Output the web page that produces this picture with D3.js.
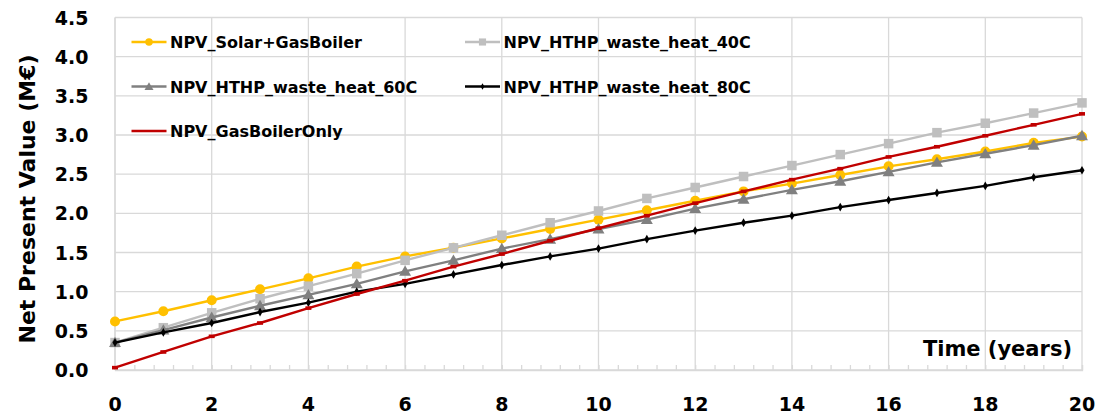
<!DOCTYPE html>
<html>
<head>
<meta charset="utf-8">
<script src="https://cdn.jsdelivr.net/npm/d3@7"></script>
<style>
  body { margin: 0; background: #fff; }
  text { font-family: "DejaVu Sans", sans-serif; font-weight: bold; fill: #000; }
</style>
</head>
<body>
<div class="chart"></div>
<script>
const years = d3.range(0, 21);
const solarGas = [0.62, 0.75, 0.89, 1.03, 1.17, 1.32, 1.45, 1.56, 1.68, 1.80, 1.92, 2.04, 2.16, 2.28, 2.38, 2.49, 2.60, 2.69, 2.79, 2.90, 2.98];
const hthp40 = [0.35, 0.54, 0.73, 0.91, 1.07, 1.23, 1.40, 1.56, 1.72, 1.88, 2.03, 2.19, 2.33, 2.47, 2.61, 2.75, 2.89, 3.03, 3.15, 3.28, 3.41];
const hthp60 = [0.35, 0.51, 0.67, 0.82, 0.96, 1.10, 1.26, 1.40, 1.55, 1.67, 1.80, 1.92, 2.06, 2.18, 2.30, 2.41, 2.53, 2.65, 2.76, 2.87, 2.99];
const hthp80 = [0.35, 0.48, 0.60, 0.74, 0.86, 1.00, 1.10, 1.22, 1.34, 1.45, 1.55, 1.67, 1.78, 1.88, 1.97, 2.08, 2.17, 2.26, 2.35, 2.46, 2.55];
const gasOnly = [0.03, 0.23, 0.43, 0.60, 0.79, 0.97, 1.14, 1.32, 1.48, 1.65, 1.81, 1.97, 2.13, 2.28, 2.43, 2.57, 2.72, 2.85, 2.99, 3.13, 3.27];
const yTicks = [0, 0.5, 1, 1.5, 2, 2.5, 3, 3.5, 4, 4.5];
const xTicks = [0, 2, 4, 6, 8, 10, 12, 14, 16, 18, 20];

const series = [
  {name: "NPV_Solar+GasBoiler", values: solarGas, color: "#FFC000", marker: "circle"},
  {name: "NPV_HTHP_waste_heat_40C", values: hthp40, color: "#BFBFBF", marker: "square"},
  {name: "NPV_HTHP_waste_heat_60C", values: hthp60, color: "#808080", marker: "triangle"},
  {name: "NPV_HTHP_waste_heat_80C", values: hthp80, color: "#000000", marker: "diamond"},
  {name: "NPV_GasBoilerOnly", values: gasOnly, color: "#C00000", marker: "dash"}
];

const W = 1099, H = 417;
const margin = {top: 17.5, right: 17, bottom: 47, left: 115};

const svg = d3.select(".chart").append("svg")
  .attr("width", W).attr("height", H);

const x = d3.scaleLinear().domain([0, 20]).range([margin.left, W - margin.right]);
const y = d3.scaleLinear().domain([0, 4.5]).range([H - margin.bottom, margin.top]);

const gridColor = "#d9d9d9";

// grid
svg.append("g").selectAll("line").data(yTicks).join("line")
  .attr("x1", x(0)).attr("x2", x(20))
  .attr("y1", d => y(d)).attr("y2", d => y(d))
  .attr("stroke", gridColor).attr("stroke-width", 1.3);
svg.append("g").selectAll("line").data(xTicks).join("line")
  .attr("x1", d => x(d)).attr("x2", d => x(d))
  .attr("y1", y(0)).attr("y2", y(4.5))
  .attr("stroke", gridColor).attr("stroke-width", 1.3);

// x axis with minor ticks
const xAxis = d3.axisBottom(x).tickValues(d3.range(0, 20.01, 0.4)).tickSize(-5).tickFormat("");
svg.append("g").attr("transform", `translate(0,${y(0)})`).call(xAxis)
  .call(g => g.select(".domain").attr("stroke", gridColor).attr("stroke-width", 1.3))
  .call(g => g.selectAll(".tick line").attr("stroke", gridColor).attr("stroke-width", 1.3));

svg.append("g").selectAll("text").data(xTicks).join("text")
  .attr("x", d => x(d)).attr("y", 410.5)
  .attr("text-anchor", "middle").attr("font-size", 19)
  .text(d => d);

// y axis labels
svg.append("g").selectAll("text").data(yTicks).join("text")
  .attr("x", 88.5).attr("y", d => y(d) + 7)
  .attr("text-anchor", "end").attr("font-size", 19)
  .text(d => d3.format(".1f")(d));

svg.append("line")
  .attr("x1", x(0)).attr("x2", x(0)).attr("y1", y(0)).attr("y2", y(4.5))
  .attr("stroke", gridColor).attr("stroke-width", 1.3);

svg.append("text")
  .attr("transform", `translate(35,199) rotate(-90)`)
  .attr("text-anchor", "middle").attr("font-size", 22)
  .text("Net Present Value (M€)");

svg.append("text")
  .attr("x", 1072).attr("y", 356)
  .attr("text-anchor", "end").attr("font-size", 21)
  .text("Time (years)");

// markers
function drawMarker(g, type, color, cx, cy, k) {
  if (type === "circle") {
    g.append("circle").attr("cx", cx).attr("cy", cy).attr("r", 5 * k).attr("fill", color);
  } else if (type === "square") {
    const s = 9.5 * k;
    g.append("rect").attr("x", cx - s / 2).attr("y", cy - s / 2).attr("width", s).attr("height", s).attr("fill", color);
  } else if (type === "triangle") {
    g.append("path").attr("d", d3.symbol(d3.symbolTriangle, 62 * k * k)()).attr("transform", `translate(${cx},${cy + 1})`).attr("fill", color);
  } else if (type === "diamond") {
    g.append("path").attr("d", d3.symbol(d3.symbolDiamond, 22 * k * k)()).attr("transform", `translate(${cx},${cy})`).attr("fill", color);
  } else if (type === "dash") {
    g.append("rect").attr("x", cx - 3 * k).attr("y", cy - 1.8 * k).attr("width", 6 * k).attr("height", 3.6 * k).attr("fill", color);
  }
}

const line = d3.line().x((d, i) => x(years[i])).y(d => y(d));

series.forEach(s => {
  const g = svg.append("g");
  g.append("path").datum(s.values)
    .attr("d", line).attr("fill", "none")
    .attr("stroke", s.color).attr("stroke-width", 2.4);
  s.values.forEach((v, i) => drawMarker(g, s.marker, s.color, x(years[i]), y(v), 1));
});

// legend
const legendPos = [[131.5, 42], [465, 42], [131.5, 86.5], [465, 86.5], [131.5, 131]];
series.forEach((s, i) => {
  const [lx, ly] = legendPos[i];
  const g = svg.append("g");
  g.append("line").attr("x1", lx).attr("x2", lx + 35).attr("y1", ly).attr("y2", ly)
    .attr("stroke", s.color).attr("stroke-width", 2.4);
  if (s.marker !== "dash") drawMarker(g, s.marker, s.color, lx + 17.5, ly, 0.75);
  g.append("text").attr("x", lx + 38.5).attr("y", ly + 6).attr("font-size", 16).text(s.name);
});
</script>
</body>
</html>
